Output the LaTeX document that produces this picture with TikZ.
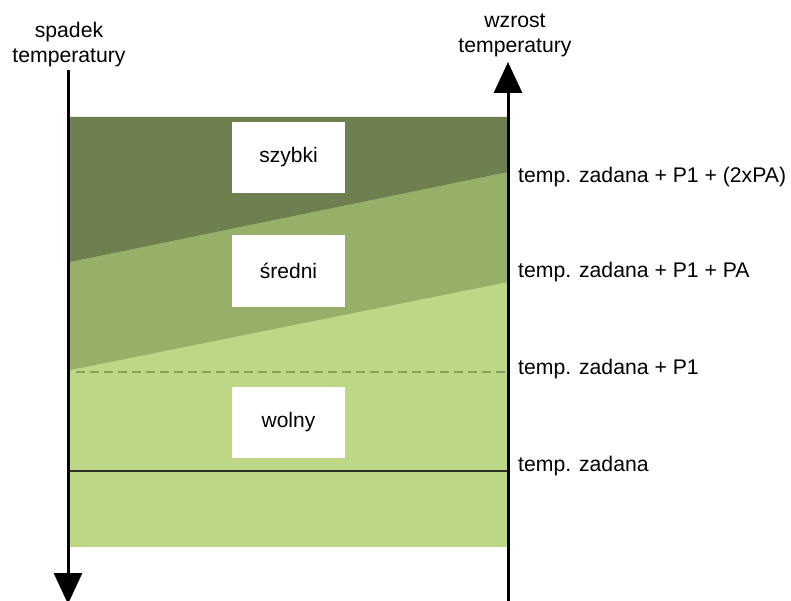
\documentclass[tikz,border=0pt]{standalone}
\usepackage{fontspec}
\setmainfont{Liberation Sans}
\usetikzlibrary{arrows.meta}
\definecolor{darkband}{RGB}{110,128,80}
\definecolor{midband}{RGB}{150,176,106}
\definecolor{lightband}{RGB}{188,215,133}
\definecolor{dashgreen}{RGB}{135,160,95}
\definecolor{lineGray}{RGB}{45,48,40}
\tikzset{
  axisline/.style={line width=3pt, black, -{Triangle[length=31pt,width=28pt]}},
  labeltext/.style={font=\fontsize{21.2}{25.5}\selectfont, inner sep=0pt, text=black},
  toplabel/.style={labeltext, align=center},
  sidelabel/.style={labeltext, anchor=base west},
  zonebox/.style={fill=white, draw=none, minimum width=113pt, inner sep=0pt, font=\fontsize{21}{25}\selectfont},
  levelline/.style={line width=2.6pt, lineGray},
  dashline/.style={line width=2pt, dashgreen, dash pattern=on 9pt off 5pt}
}
\begin{document}
\begin{tikzpicture}[x=1pt,y=-1pt]
\useasboundingbox (0,0) rectangle (791,601);
% bands
\fill[lightband] (70,117) rectangle (508,547);
\fill[midband] (70,262) -- (508,172) -- (508,282) -- (70,370) -- cycle;
\fill[darkband] (70,117) -- (508,117) -- (508,172) -- (70,262) -- cycle;
% level lines
\coordinate (d1) at (76,372);
\coordinate (d2) at (508,372);
\draw[dashline] (d1) -- (d2);
\coordinate (s1) at (70,471);
\coordinate (s2) at (508,471);
\draw[levelline] (s1) -- (s2);
% zone boxes
\node[zonebox, minimum height=71pt] (szybki) at (288.5,157.5) {szybki};
\node[zonebox, minimum height=72pt] (sredni) at (288.5,271) {średni};
\node[zonebox, minimum height=71pt] (wolny) at (288.5,422.5) {wolny};
% axes
\coordinate (Ltop) at (68,70);
\coordinate (Lbot) at (68,604);
\draw[axisline] (Ltop) -- (Lbot);
\coordinate (Rbot) at (508,601);
\coordinate (Rtop) at (508,62);
\draw[axisline] (Rbot) -- (Rtop);
% axis labels
\node[toplabel, anchor=base] (spadek) at (69,63) {spadek\\temperatury};
\node[toplabel, anchor=base] (wzrost) at (515,53) {wzrost\\temperatury};
% side labels
\node[sidelabel] (l4) at (518,183) {temp. zadana + P1 + (2xPA)};
\node[sidelabel] (l3) at (518,277) {temp. zadana + P1 + PA};
\node[sidelabel] (l2) at (518,374) {temp. zadana + P1};
\node[sidelabel] (l1) at (518,471) {temp. zadana};
\end{tikzpicture}
\end{document}
